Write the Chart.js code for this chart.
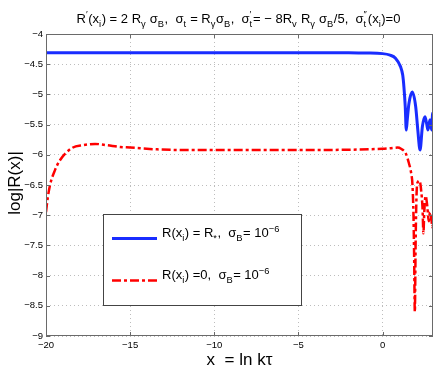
<!DOCTYPE html>
<html>
<head>
<meta charset="utf-8">
<script src="https://cdn.jsdelivr.net/npm/chart.js@4/dist/chart.umd.min.js"></script>
<style>
  html, body { margin: 0; padding: 0; background: #fff; }
  #wrap { width: 436px; height: 371px; }
</style>
</head>
<body>
<div id="wrap"><canvas id="chart-canvas" width="436" height="371"></canvas></div>
<script>
// data
const xBlue = [-20, -10, -5, -2, -1, 0, 0.45, 0.77, 1.07, 1.2, 1.27, 1.35, 1.41, 1.47, 1.57, 1.77, 1.97, 2.1, 2.23, 2.37, 2.52, 2.62, 2.7, 2.82, 2.92, 2.98, 3]
const yBlue = [-4.31, -4.31, -4.31, -4.31, -4.315, -4.325, -4.35, -4.40, -4.54, -4.68, -4.87, -5.2, -5.59, -5.42, -5.15, -4.96, -5.2, -5.6, -5.92, -5.53, -5.37, -5.48, -5.59, -5.42, -5.59, -5.31, -5.45]

const xRed = [-20, -19.9, -19.76, -19.46, -19.17, -18.47, -17.78, -17.08, -16.39, -15.6, -15, -13.4, -11.8, -8, -4, 0, 0.5, 0.9, 1.1, 1.37, 1.57, 1.7, 1.78, 1.84, 1.88, 1.92, 1.97, 2.03, 2.1, 2.2, 2.3, 2.38, 2.43, 2.48, 2.56, 2.66, 2.75, 2.82, 2.9, 2.96, 3]
const yRed = [-6.95, -6.72, -6.5, -6.25, -6.09, -5.89, -5.84, -5.82, -5.84, -5.87, -5.88, -5.91, -5.92, -5.92, -5.92, -5.9, -5.89, -5.88, -5.9, -5.97, -6.14, -6.3, -6.5, -7.0, -7.7, -8.6, -7.4, -6.6, -6.45, -6.43, -6.6, -6.9, -7.3, -6.95, -6.68, -6.85, -7.1, -6.95, -7.05, -7.2, -7.1]

const X_MIN = -20, X_MAX = 3, X_STEP = 5
const Y_MIN = -9, Y_MAX = -4, Y_STEP = 0.5

// text pieces: 'n' normal, 'b' subscript, 'p' superscript, 's' stacked [sup, sub]
const titleParts = [['R','n'],['′','p'],['(x','n'],['i','b'],[') = 2 R','n'],['γ','b'],[' σ','n'],['B','b'],[',  σ','n'],['t','b'],[' = R','n'],['γ','b'],['σ','n'],['B','b'],[',  σ','n'],[['′','t'],'s'],['= − 8R','n'],['v','b'],[' R','n'],['γ','b'],[' σ','n'],['B','b'],['/5,  σ','n'],[['″','t'],'s'],['(x','n'],['i','b'],[')=0','n']]
const legendBlue = [['R(x','n'],['i','b'],[') = R','n'],['*','b'],[',  σ','n'],['B','b'],['= 10','n'],['−6','p']]
const legendRed = [['R(x','n'],['i','b'],[') =0,  σ','n'],['B','b'],['= 10','n'],['−6','p']]
const xTitle = 'x  = ln kτ'
const yTitle = 'log|R(x)|'

const FONT = '"Liberation Sans", Arial, Helvetica, sans-serif'
const BLUE = 'rgb(25,45,255)'
const RED = 'rgb(255,0,0)'
const RED_DASH = [9, 3, 3, 3]


function toPoints(xs, ys) {
    return xs.map((x, i) => ({ x: x, y: ys[i] }))
}

function partWidth(ctx, part, size) {
    const [txt, kind] = part
    if (kind === 'n') {
        ctx.font = `${size}px ${FONT}`
        return ctx.measureText(txt).width
    }
    ctx.font = `${size * 0.72}px ${FONT}`
    if (kind === 's') {
        return Math.max(ctx.measureText(txt[0]).width, ctx.measureText(txt[1]).width) + 1
    }
    return ctx.measureText(txt).width + 0.5
}

function richWidth(ctx, parts, size) {
    return parts.reduce((s, p) => s + partWidth(ctx, p, size), 0)
}

function drawRich(ctx, parts, x, y, size) {
    ctx.textBaseline = 'alphabetic'
    ctx.textAlign = 'left'
    let cx = x
    for (const part of parts) {
        const [txt, kind] = part
        const w = partWidth(ctx, part, size)
        if (kind === 'n') {
            ctx.font = `${size}px ${FONT}`
            ctx.fillText(txt, cx, y)
        } else {
            ctx.font = `${size * 0.72}px ${FONT}`
            if (kind === 'b') ctx.fillText(txt, cx, y + size * 0.32)
            if (kind === 'p') ctx.fillText(txt, cx, y - size * 0.42)
            if (kind === 's') {
                ctx.fillText(txt[0], cx, y - size * 0.42)
                ctx.fillText(txt[1], cx, y + size * 0.32)
            }
        }
        cx += w
    }
}


const decorPlugin = {
    id: 'decor',
    afterDraw(chart) {
        const ctx = chart.ctx
        const area = chart.chartArea
        const xs = chart.scales.x
        const ys = chart.scales.y
        ctx.save()

        // box and inward ticks
        ctx.strokeStyle = '#6a6a6a'
        ctx.lineWidth = 1
        ctx.setLineDash([])
        ctx.strokeRect(area.left + 0.5, area.top + 0.5, area.right - area.left - 1, area.bottom - area.top - 1)
        ctx.beginPath()
        xs.ticks.forEach(t => {
            const px = Math.round(xs.getPixelForValue(t.value)) + 0.5
            ctx.moveTo(px, area.bottom); ctx.lineTo(px, area.bottom - 4)
            ctx.moveTo(px, area.top); ctx.lineTo(px, area.top + 4)
        })
        ys.ticks.forEach(t => {
            const py = Math.round(ys.getPixelForValue(t.value)) + 0.5
            ctx.moveTo(area.left, py); ctx.lineTo(area.left + 4, py)
            ctx.moveTo(area.right, py); ctx.lineTo(area.right - 4, py)
        })
        ctx.stroke()

        // title
        ctx.fillStyle = '#000'
        const tSize = 13
        const tw = richWidth(ctx, titleParts, tSize)
        drawRich(ctx, titleParts, 238.5 - tw / 2, 22.5, tSize)

        // axis titles
        ctx.font = `17px ${FONT}`
        ctx.textAlign = 'center'
        ctx.textBaseline = 'alphabetic'
        ctx.fillText(xTitle, (area.left + area.right) / 2, 365)
        ctx.save()
        ctx.translate(20, (area.top + area.bottom) / 2 - 2)
        ctx.rotate(-Math.PI / 2)
        ctx.fillText(yTitle, 0, 0)
        ctx.restore()

        // legend
        const lx = 103, ly = 214, lw = 198, lh = 91
        ctx.fillStyle = '#fff'
        ctx.fillRect(lx, ly, lw, lh)
        ctx.strokeStyle = '#444'
        ctx.lineWidth = 1
        ctx.strokeRect(lx + 0.5, ly + 0.5, lw, lh)

        ctx.lineWidth = 3
        ctx.strokeStyle = BLUE
        ctx.beginPath(); ctx.moveTo(112, 238.5); ctx.lineTo(157, 238.5); ctx.stroke()
        ctx.lineWidth = 2.5
        ctx.strokeStyle = RED
        ctx.setLineDash(RED_DASH)
        ctx.beginPath(); ctx.moveTo(112, 280.5); ctx.lineTo(157, 280.5); ctx.stroke()
        ctx.setLineDash([])

        ctx.fillStyle = '#000'
        drawRich(ctx, legendBlue, 162, 237, 13)
        drawRich(ctx, legendRed, 162, 279, 13)

        ctx.restore()
    }
}


const gridStyle = {
    color: '#bdbdbd',
    lineWidth: 1,
    drawTicks: false
}

new Chart(document.getElementById('chart-canvas'), {
    type: 'line',
    data: {
        datasets: [
            {
                label: 'blue',
                data: toPoints(xBlue, yBlue),
                borderColor: BLUE,
                borderWidth: 3,
                pointRadius: 0,
                cubicInterpolationMode: 'monotone',
                fill: false
            },
            {
                label: 'red',
                data: toPoints(xRed, yRed),
                borderColor: RED,
                borderWidth: 2.5,
                borderDash: RED_DASH,
                pointRadius: 0,
                cubicInterpolationMode: 'monotone',
                fill: false
            }
        ]
    },
    options: {
        responsive: false,
        animation: false,
        layout: { padding: { top: 34, right: 3, left: 0, bottom: 0 } },
        plugins: {
            legend: { display: false },
            tooltip: { enabled: false }
        },
        scales: {
            x: {
                type: 'linear',
                min: X_MIN,
                max: X_MAX,
                grid: gridStyle,
                border: { display: false, dash: [1, 3] },
                ticks: {
                    stepSize: X_STEP,
                    includeBounds: false,
                    maxRotation: 0,
                    padding: 4,
                    color: '#000',
                    font: { family: FONT, size: 9.5 },
                    callback: v => String(v).replace('-', '−')
                },
                afterFit: scale => { scale.height = 35 }
            },
            y: {
                type: 'linear',
                min: Y_MIN,
                max: Y_MAX,
                grid: gridStyle,
                border: { display: false, dash: [1, 3] },
                ticks: {
                    stepSize: Y_STEP,
                    padding: 3,
                    color: '#000',
                    font: { family: FONT, size: 9.5 },
                    callback: v => String(v).replace('-', '−')
                },
                afterFit: scale => { scale.width = 46 }
            }
        }
    },
    plugins: [decorPlugin]
})
</script>
</body>
</html>
